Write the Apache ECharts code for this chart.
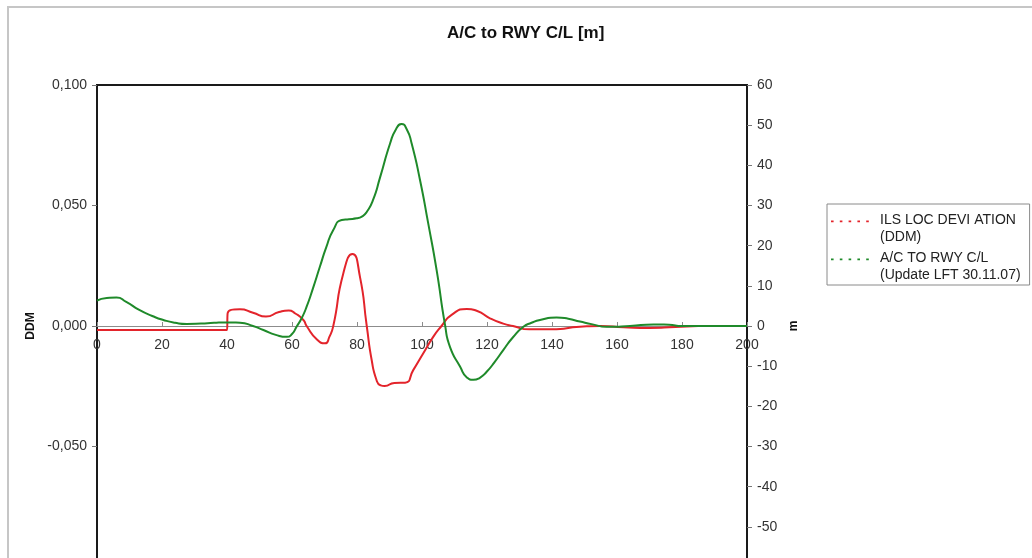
<!DOCTYPE html>
<html>
<head>
<meta charset="utf-8">
<title>A/C to RWY C/L [m]</title>
<script src="https://cdn.jsdelivr.net/npm/echarts@6/dist/echarts.min.js"></script>
<style>
  html, body { margin: 0; padding: 0; background: #fff; }
  #chart { width: 1032px; height: 558px; }
</style>
</head>
<body>
<div id="chart"></div>
<script>
// ILS LOC deviation (DDM), left axis
const redX = [0, 20, 40, 40.2, 44, 48, 52, 56, 59, 61, 63.5, 64.5, 67.6, 70.2, 71.5, 72.7, 75.8, 78.6, 80.9, 83, 84.5, 86, 87.2, 88.5, 91.5, 94.8, 97.3, 100.4, 103.5, 106, 109, 113.8, 117, 120.9, 125, 128, 133, 140, 148.6, 155, 162, 170, 178, 185]
const redDDM = [-0.0017, -0.0017, -0.0017, 0.0053, 0.0069, 0.0055, 0.0039, 0.0058, 0.0064, 0.0052, 0.0025, 0.0000, -0.0055, -0.0072, -0.0045, 0.0000, 0.0219, 0.0299, 0.0205, 0.0000, -0.0140, -0.0224, -0.0246, -0.0249, -0.0236, -0.0235, -0.0183, -0.0113, -0.0044, 0.0000, 0.0045, 0.0071, 0.0062, 0.0032, 0.0010, 0.0000, -0.0014, -0.0014, -0.0003, 0.0000, -0.0005, -0.0008, -0.0004, 0.0000]

// A/C to runway centre line (m), right axis
const greenX = [0, 3, 6, 9, 13, 17, 20.4, 24, 27.6, 32, 36, 40, 44, 48, 51.2, 55, 58.4, 60, 61.4, 63, 64.5, 66.5, 68.6, 70.5, 72.7, 75.3, 77.5, 79.9, 81.6, 83, 85, 87.1, 90.2, 92, 93.7, 95.3, 96.8, 99.4, 101.9, 104.5, 107.1, 108.6, 111.7, 113.8, 115.8, 117.8, 119.9, 122.5, 125, 128, 131.2, 133.7, 136.3, 141.4, 145, 148.6, 152.5, 156.8, 164, 171.2, 176, 180, 190, 200]
const greenM = [6.3, 7.0, 7.1, 6.0, 4.0, 2.5, 1.5, 0.8, 0.5, 0.6, 0.8, 0.9, 0.8, 0.0, -1.0, -2.2, -2.7, -2.0, -0.2, 2.0, 4.8, 9.5, 14.8, 19.5, 23.9, 26.4, 26.6, 26.8, 27.3, 28.4, 31.5, 37.0, 45.5, 49.0, 50.3, 49.0, 45.5, 36.3, 25.6, 13.9, 0.2, -5.2, -10.1, -12.8, -13.4, -12.9, -11.4, -8.8, -6.0, -2.8, -0.2, 0.8, 1.5, 2.1, 1.8, 1.1, 0.4, -0.2, 0.0, 0.4, 0.3, 0.0, 0.0, 0.0]

const seriesNames = ['ILS LOC DEVI ATION\n(DDM)', 'A/C TO RWY C/L\n(Update LFT 30.11.07)']
const titleText = 'A/C to RWY C/L [m]'

const FONT = "'Liberation Sans', Arial, sans-serif"
const RED = '#e3242b'
const GREEN = '#1f8a2a'

// dotted legend sample sitting on the first text line
const dotIcon = 'path://M0,0h0.1v0.1h-0.1z M0,8.4h2.6v1.8h-2.6z M8.8,8.4h2.6v1.8h-2.6z M17.6,8.4h2.6v1.8h-2.6z M26.4,8.4h2.6v1.8h-2.6z M35.2,8.4h2.6v1.8h-2.6z M42.9,33.9h0.1v0.1h-0.1z'

const chart = echarts.init(document.getElementById('chart'))

chart.setOption({
  animation: false,
  backgroundColor: '#fff',
  textStyle: { fontFamily: FONT },
  graphic: [{
    type: 'rect',
    shape: { x: 8, y: 7, width: 1040, height: 600 },
    style: { fill: 'none', stroke: '#c6c6c6', lineWidth: 2 },
    silent: true
  }],
  title: {
    text: titleText,
    left: 447,
    top: 25,
    padding: 0,
    textStyle: { fontFamily: FONT, fontSize: 17, fontWeight: 'bold', color: '#111' }
  },
  legend: {
    orient: 'vertical',
    left: 827,
    top: 204,
    padding: [8, 9, 1, 4],
    itemGap: 4,
    itemWidth: 45,
    itemHeight: 34,
    icon: dotIcon,
    borderColor: '#8a8a8a',
    borderWidth: 1,
    backgroundColor: '#fff',
    textStyle: { fontFamily: FONT, fontSize: 14, lineHeight: 17, color: '#222' },
    data: seriesNames
  },
  grid: {
    left: 97,
    top: 85,
    width: 650,
    height: 482,
    outerBoundsMode: 'none',
    containLabel: false,
    show: true,
    borderColor: '#1a1a1a',
    borderWidth: 2
  },
  xAxis: {
    type: 'value',
    position: 'bottom',
    offset: -241,
    min: 0,
    max: 200,
    interval: 20,
    axisLine: { show: true, onZero: false, lineStyle: { color: '#8c8c8c', width: 1 } },
    axisTick: { show: true, inside: true, length: 4, lineStyle: { color: '#8c8c8c' } },
    axisLabel: { margin: 12, fontSize: 14, color: '#333', fontFamily: FONT },
    splitLine: { show: false }
  },
  yAxis: [
    {
      type: 'value',
      position: 'left',
      min: -0.1,
      max: 0.1,
      interval: 0.05,
      name: 'DDM',
      nameLocation: 'middle',
      nameGap: 55,
      nameTextStyle: { fontFamily: FONT, fontSize: 12, fontWeight: 'bold', color: '#111' },
      axisLine: { show: false },
      axisTick: { show: true, length: 5, lineStyle: { color: '#777' } },
      axisLabel: {
        margin: 10, fontSize: 14, color: '#333', fontFamily: FONT,
        formatter: v => v.toFixed(3).replace('.', ',')
      },
      splitLine: { show: false }
    },
    {
      type: 'value',
      position: 'right',
      min: -60,
      max: 60,
      interval: 10,
      name: 'm',
      nameLocation: 'middle',
      nameRotate: 90,
      nameGap: 41,
      nameTextStyle: { fontFamily: FONT, fontSize: 12, fontWeight: 'bold', color: '#111' },
      axisLine: { show: false },
      axisTick: { show: true, length: 5, lineStyle: { color: '#777' } },
      axisLabel: { margin: 10, fontSize: 14, color: '#333', fontFamily: FONT },
      splitLine: { show: false }
    }
  ],
  series: [
    {
      name: seriesNames[0],
      type: 'line',
      yAxisIndex: 0,
      symbol: 'none',
      smooth: 0.6,
      color: RED,
      lineStyle: { width: 2, color: RED },
      data: redX.map((x, i) => [x, redDDM[i]])
    },
    {
      name: seriesNames[1],
      type: 'line',
      yAxisIndex: 1,
      symbol: 'none',
      smooth: 0.6,
      color: GREEN,
      lineStyle: { width: 2, color: GREEN },
      data: greenX.map((x, i) => [x, greenM[i]])
    }
  ]
})

window.addEventListener('resize', () => chart.resize())
</script>
</body>
</html>
